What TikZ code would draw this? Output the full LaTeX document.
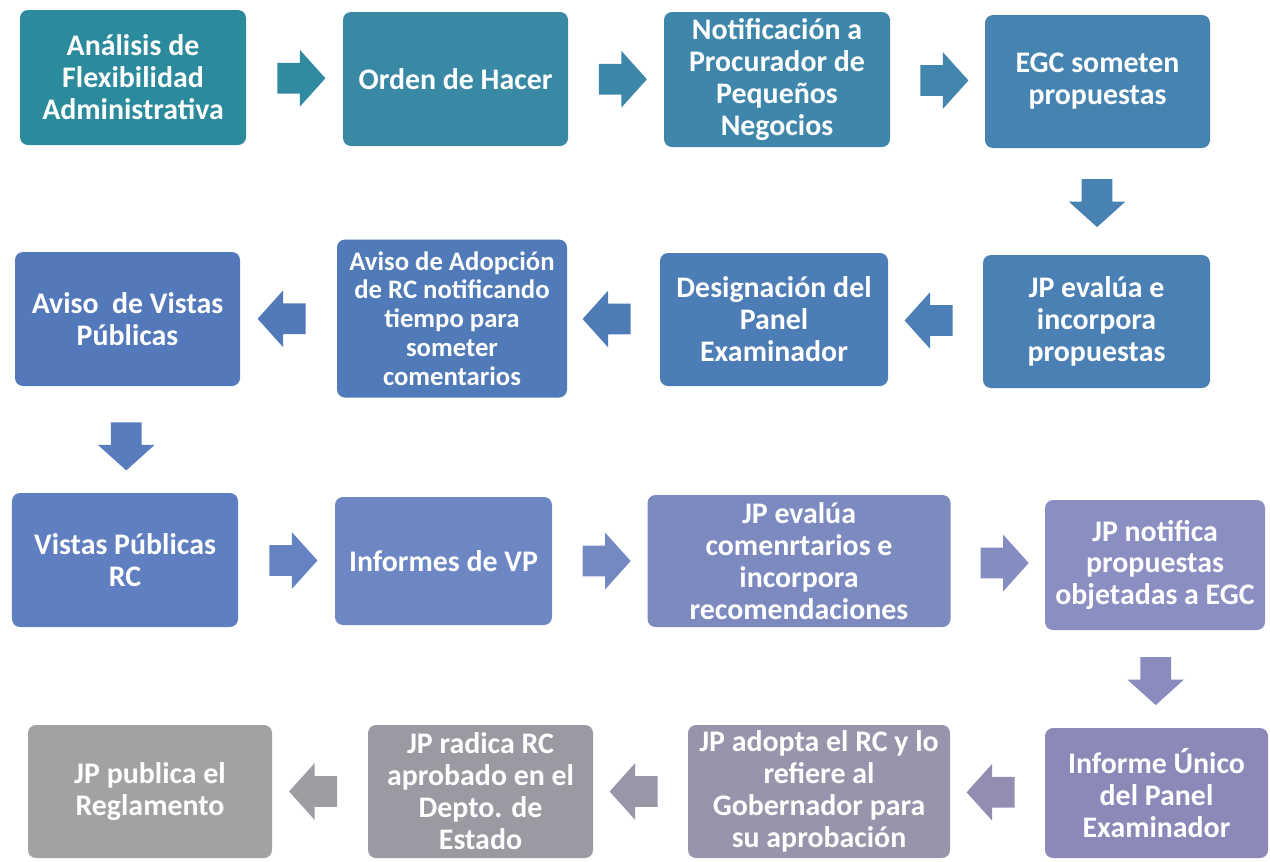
\documentclass[tikz,border=0pt]{standalone}
\usepackage{fontspec}
\setmainfont{Carlito}
\usetikzlibrary{shapes.arrows,calc}

\definecolor{c01}{HTML}{2B8A9C}
\definecolor{c02}{HTML}{3A89A4}
\definecolor{c03}{HTML}{3F86AB}
\definecolor{c04}{HTML}{4584B0}
\definecolor{c05}{HTML}{4A80B4}
\definecolor{c06}{HTML}{4D7DB6}
\definecolor{c07}{HTML}{507BB8}
\definecolor{c08}{HTML}{5479BA}
\definecolor{c09}{HTML}{5F7FC0}
\definecolor{c10}{HTML}{6C87C4}
\definecolor{c11}{HTML}{7D8AC0}
\definecolor{c12}{HTML}{8B8EC0}
\definecolor{c13}{HTML}{8C89B9}
\definecolor{c14}{HTML}{9993AB}
\definecolor{c15}{HTML}{9C99A3}
\definecolor{c16}{HTML}{A2A2A4}

\begin{document}
\begin{tikzpicture}[scale=1]
\tikzstyle{stepbox}=[rounded corners=0.16cm,inner sep=0,text=white,align=center,font=\bfseries\fontsize{17}{18.2}\selectfont]
\tikzstyle{rarrow}=[single arrow,draw=none,minimum height=0.96cm,inner xsep=0,inner ysep=0.3cm,single arrow head extend=0.26cm,single arrow tip angle=96]
\tikzstyle{larrow}=[rarrow,rotate=180]
\tikzstyle{darrow}=[rarrow,rotate=-90]
\useasboundingbox (0,0) rectangle (25.4,-17.22);
% first row
\node[stepbox,fill=c01,minimum width=4.52cm,minimum height=2.7cm] (s1) at (2.66,-1.55) {Análisis de\\Flexibilidad\\Administrativa};
\node[stepbox,fill=c02,minimum width=4.5cm,minimum height=2.68cm] (s2) at (9.11,-1.58) {Orden de Hacer};
\node[stepbox,fill=c03,minimum width=4.52cm,minimum height=2.7cm] (s3) at (15.54,-1.59) {Notificación a\\Procurador de\\Pequeños\\Negocios};
\node[stepbox,fill=c04,minimum width=4.5cm,minimum height=2.66cm] (s4) at (21.95,-1.63) {EGC someten\\propuestas};
% second row
\node[stepbox,fill=c05,minimum width=4.54cm,minimum height=2.66cm] (s5) at (21.93,-6.43) {JP evalúa e\\incorpora\\propuestas};
\node[stepbox,fill=c06,minimum width=4.56cm,minimum height=2.66cm] (s6) at (15.48,-6.39) {Designación del\\Panel\\Examinador};
\node[stepbox,fill=c07,minimum width=4.6cm,minimum height=3.16cm,font=\bfseries\fontsize{15.2}{16.4}\selectfont] (s7) at (9.04,-6.37) {Aviso de Adopción\\de RC notificando\\tiempo para\\someter\\comentarios};
\node[stepbox,fill=c08,minimum width=4.5cm,minimum height=2.68cm] (s8) at (2.55,-6.38) {Aviso\ \ de Vistas\\Públicas};
% third row
\node[stepbox,fill=c09,minimum width=4.52cm,minimum height=2.68cm] (s9) at (2.5,-11.2) {Vistas Públicas\\RC};
\node[stepbox,fill=c10,minimum width=4.34cm,minimum height=2.56cm] (s10) at (8.87,-11.22) {Informes de VP};
\node[stepbox,fill=c11,minimum width=6.06cm,minimum height=2.64cm] (s11) at (15.98,-11.22) {JP evalúa\\comenrtarios e\\incorpora\\recomendaciones};
\node[stepbox,fill=c12,minimum width=4.4cm,minimum height=2.6cm] (s12) at (23.1,-11.3) {JP notifica\\propuestas\\objetadas a EGC};
% fourth row
\node[stepbox,fill=c13,minimum width=4.46cm,minimum height=2.6cm] (s13) at (23.13,-15.86) {Informe Único\\del Panel\\Examinador};
\node[stepbox,fill=c14,minimum width=5.24cm,minimum height=2.66cm] (s14) at (16.38,-15.83) {JP adopta el RC y lo\\refiere al\\Gobernador para\\su aprobación};
\node[stepbox,fill=c15,minimum width=4.5cm,minimum height=2.66cm] (s15) at (9.61,-15.83) {JP radica RC\\aprobado en el\\Depto. de\\Estado};
\node[stepbox,fill=c16,minimum width=4.88cm,minimum height=2.66cm] (s16) at (3.0,-15.83) {JP publica el\\Reglamento};
% arrows
\node[rarrow,fill=c01!55!c02] (a1) at ($(s1.east)!0.5!(s2.west)$) {};
\node[rarrow,fill=c02!50!c03] (a2) at ($(s2.east)!0.5!(s3.west)$) {};
\node[rarrow,fill=c03!50!c04] (a3) at ($(s3.east)!0.5!(s4.west)$) {};
\node[darrow,fill=c04!50!c05] (a4) at ($(s4.south)!0.45!(s5.north)$) {};
\node[larrow,fill=c05!50!c06] (a5) at ($(s5.west)!0.5!(s6.east)$) {};
\node[larrow,fill=c06!50!c07] (a6) at ($(s6.west)!0.5!(s7.east)$) {};
\node[larrow,fill=c07!50!c08] (a7) at ($(s7.west)!0.5!(s8.east)$) {};
\node[darrow,fill=c08!50!c09] (a8) at ($(s8.south)!0.5!(s9.north)$) {};
\node[rarrow,fill=c09!50!c10] (a9) at ($(s9.east)!0.5!(s10.west)$) {};
\node[rarrow,fill=c10!50!c11] (a10) at ($(s10.east)!0.5!(s11.west)$) {};
\node[rarrow,fill=c11!40!c12] (a11) at ($(s11.east)!0.5!(s12.west)$) {};
\node[darrow,fill=c12!50!c13] (a12) at ($(s12.south)!0.45!(s13.north)$) {};
\node[larrow,fill=c13!50!c14] (a13) at ($(s13.west)!0.5!(s14.east)$) {};
\node[larrow,fill=c14!50!c15] (a14) at ($(s14.west)!0.5!(s15.east)$) {};
\node[larrow,fill=c15!50!c16] (a15) at ($(s15.west)!0.5!(s16.east)$) {};
\end{tikzpicture}
\end{document}
